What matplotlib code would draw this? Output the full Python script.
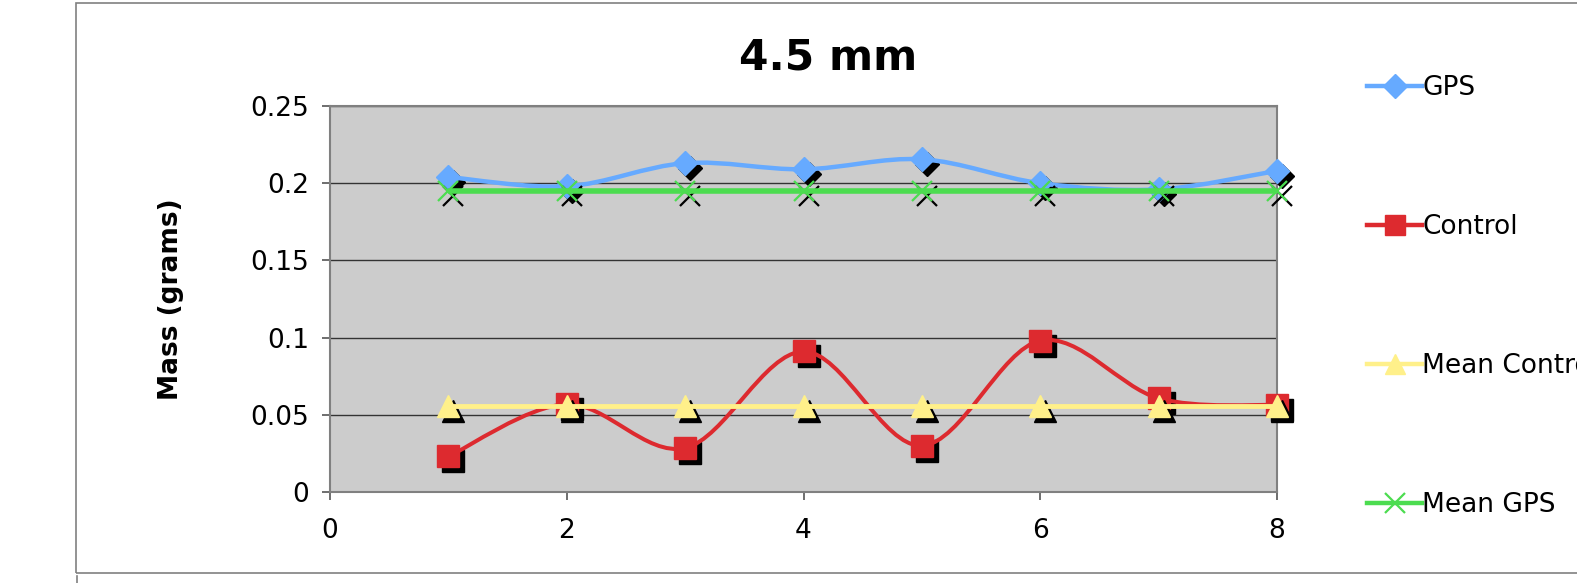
import numpy as np
import matplotlib
matplotlib.use("Agg")
import matplotlib.pyplot as plt
from matplotlib.path import Path
from matplotlib.patches import PathPatch, Rectangle
from matplotlib.lines import Line2D
from matplotlib.transforms import offset_copy

# ============================================================
# Data
# ============================================================
samples = [1, 2, 3, 4, 5, 6, 7, 8]
gps = [0.204, 0.198, 0.213, 0.209, 0.2155, 0.200, 0.196, 0.208]
control = [0.023, 0.0568, 0.0285, 0.091, 0.030, 0.098, 0.0607, 0.0563]
mean_control = [0.0555] * 8
mean_gps = [0.195] * 8

x_ticks = [0, 2, 4, 6, 8]
y_ticks = [0, 0.05, 0.1, 0.15, 0.2, 0.25]
y_tick_labels = ["0", "0.05", "0.1", "0.15", "0.2", "0.25"]

# ============================================================
# Helpers
# ============================================================

def smooth_path(xs, ys):
    # Excel-style smoothed line: cubic Bezier through each point
    pts = np.column_stack([xs, ys]).astype(float)
    n = len(pts)
    verts = [pts[0]]
    codes = [Path.MOVETO]
    for i in range(n - 1):
        p0 = pts[i - 1] if i > 0 else pts[i]
        p1 = pts[i]
        p2 = pts[i + 1]
        p3 = pts[i + 2] if i + 2 < n else pts[i + 1]
        c1 = p1 + (p2 - p0) / 6.0
        c2 = p2 - (p3 - p1) / 6.0
        verts += [c1, c2, p2]
        codes += [Path.CURVE4] * 3
    return Path(verts, codes)


def draw_series(ax, xs, ys, color, marker, ms, lw, z, smooth=True, mew=1.0):
    shadow_tr = offset_copy(ax.transData, fig=ax.figure, x=5, y=-5, units="dots")
    ax.plot(xs, ys, linestyle="none", marker=marker, ms=ms, color="black",
            mec="black", mew=mew, transform=shadow_tr, zorder=z, clip_on=False)
    if smooth:
        patch = PathPatch(smooth_path(xs, ys), facecolor="none", edgecolor=color,
                          lw=lw, zorder=z + 0.1, capstyle="round", joinstyle="round")
        ax.add_patch(patch)
    else:
        ax.plot(xs, ys, color=color, lw=lw, zorder=z + 0.1, solid_capstyle="butt")
    ax.plot(xs, ys, linestyle="none", marker=marker, ms=ms, color=color,
            mec=color, mew=mew, zorder=z + 0.2, clip_on=False)


# ============================================================
# Plot
# ============================================================
plt.rcParams["font.family"] = "DejaVu Sans"

fig = plt.figure(figsize=(15.77, 5.83), dpi=100)
ax = fig.add_axes([330 / 1577, 1 - 492 / 583, (1277 - 330) / 1577, (492 - 106) / 583])

# outer chart border
fig.add_artist(Rectangle((76 / 1577, 1 - 573 / 583), 1.0, (573 - 3) / 583,
                         transform=fig.transFigure, fill=False, ec="#808080", lw=1.2))
fig.add_artist(Line2D([77 / 1577, 77 / 1577], [0, 1 - 576 / 583],
                      transform=fig.transFigure, color="#808080", lw=1.2))

ax.set_facecolor("#cccccc")

blue = "#66aaff"
red = "#dd2a2f"
yellow = "#fff08a"
green = "#4cdc50"

draw_series(ax, samples, gps, blue, "D", 12.5, 3.2, 3)
draw_series(ax, samples, control, red, "s", 15.5, 2.9, 4)
draw_series(ax, samples, mean_control, yellow, "^", 15.5, 3.5, 5, smooth=False)
draw_series(ax, samples, mean_gps, green, "x", 14, 4.0, 6, smooth=False, mew=1.6)

ax.set_xlim(0, 8)
ax.set_ylim(0, 0.25)
ax.set_xticks(x_ticks)
ax.set_yticks(y_ticks)
ax.set_yticklabels(y_tick_labels)
ax.tick_params(direction="out", length=6, width=1.2, color="#555555",
               labelsize=19)
ax.tick_params(axis="y", pad=9)
ax.tick_params(axis="x", pad=13)

ax.grid(axis="y", color="#333333", lw=1.0)
ax.set_axisbelow(True)
for s in ax.spines.values():
    s.set_color("#808080")
    s.set_linewidth(1.5)

ax.set_ylabel("Mass (grams)", fontsize=19, fontweight="bold")
ax.yaxis.set_label_coords((184 - 330) / 947, 0.5)
fig.text(828 / 1577, 1 - 58 / 583, "4.5 mm", fontsize=30.5, fontweight="bold",
         ha="center", va="center")

# legend (the last label runs off the right edge, as in the original)
handles = [
    Line2D([], [], color=blue, lw=3.2, marker="D", ms=12),
    Line2D([], [], color=red, lw=3.2, marker="s", ms=14),
    Line2D([], [], color=yellow, lw=3.2, marker="^", ms=15),
    Line2D([], [], color=green, lw=3.2, marker="x", ms=14, mew=1.6),
]
labels = ["GPS", "Control", "Mean Control", "Mean GPS"]
fig.legend(handles, labels, loc="upper left", bbox_to_anchor=(1367 / 1577, 1 - 75 / 583),
           frameon=False, fontsize=19, handlelength=2.1, handletextpad=0.0,
           labelspacing=4.28, borderaxespad=0, borderpad=0)

fig.savefig("out.png", dpi=100)
